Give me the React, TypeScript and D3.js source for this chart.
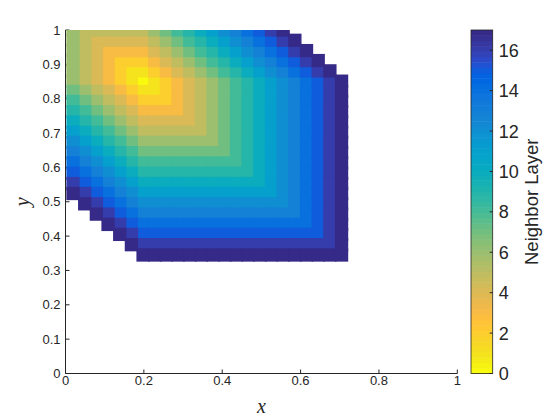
import React from 'react';
import * as d3 from 'd3';

// Cell centres (x for columns, y for rows top -> bottom)
const xCenters = [
  0.0192, 0.049, 0.0788, 0.1086, 0.1384, 0.1682, 0.198, 0.2278, 0.2576, 0.2874, 0.3172, 0.347,
  0.3768, 0.4066, 0.4364, 0.4662, 0.496, 0.5258, 0.5556, 0.5854, 0.6152, 0.645, 0.6748, 0.7046,
];
const yCenters = [
  1.0, 0.97, 0.94, 0.911, 0.881, 0.851, 0.821, 0.792, 0.762, 0.732, 0.702, 0.673,
  0.643, 0.613, 0.583, 0.553, 0.524, 0.494, 0.464, 0.434, 0.405, 0.375, 0.345,
];

const _ = null;
// Neighbor layer of each cell, rows top -> bottom, columns left -> right
const layers: (number | null)[][] = [
  [6, 5, 5, 5, 5, 5, 5, 6, 7, 8, 9, 10, 11, 12, 13, 14, 15, 16, 17, _, _, _, _, _],
  [6, 5, 4, 4, 4, 4, 4, 5, 6, 7, 8, 9, 10, 11, 12, 13, 14, 15, 16, 17, _, _, _, _],
  [6, 5, 4, 3, 3, 3, 3, 4, 5, 6, 7, 8, 9, 10, 11, 12, 13, 14, 15, 16, 17, _, _, _],
  [6, 5, 4, 3, 2, 2, 2, 3, 4, 5, 6, 7, 8, 9, 10, 11, 12, 13, 14, 15, 16, 17, _, _],
  [6, 5, 4, 3, 2, 1, 1, 2, 3, 4, 5, 6, 7, 8, 9, 10, 11, 12, 13, 14, 15, 16, 17, _],
  [6, 5, 4, 3, 2, 1, 0, 1, 2, 3, 4, 5, 6, 7, 8, 9, 10, 11, 12, 13, 14, 15, 16, 17],
  [7, 6, 5, 4, 3, 2, 1, 1, 2, 3, 4, 5, 6, 7, 8, 9, 10, 11, 12, 13, 14, 15, 16, 17],
  [8, 7, 6, 5, 4, 3, 2, 2, 2, 3, 4, 5, 6, 7, 8, 9, 10, 11, 12, 13, 14, 15, 16, 17],
  [9, 8, 7, 6, 5, 4, 3, 3, 3, 3, 4, 5, 6, 7, 8, 9, 10, 11, 12, 13, 14, 15, 16, 17],
  [10, 9, 8, 7, 6, 5, 4, 4, 4, 4, 4, 5, 6, 7, 8, 9, 10, 11, 12, 13, 14, 15, 16, 17],
  [11, 10, 9, 8, 7, 6, 5, 5, 5, 5, 5, 5, 6, 7, 8, 9, 10, 11, 12, 13, 14, 15, 16, 17],
  [12, 11, 10, 9, 8, 7, 6, 6, 6, 6, 6, 6, 6, 7, 8, 9, 10, 11, 12, 13, 14, 15, 16, 17],
  [13, 12, 11, 10, 9, 8, 7, 7, 7, 7, 7, 7, 7, 7, 8, 9, 10, 11, 12, 13, 14, 15, 16, 17],
  [14, 13, 12, 11, 10, 9, 8, 8, 8, 8, 8, 8, 8, 8, 8, 9, 10, 11, 12, 13, 14, 15, 16, 17],
  [15, 14, 13, 12, 11, 10, 9, 9, 9, 9, 9, 9, 9, 9, 9, 9, 10, 11, 12, 13, 14, 15, 16, 17],
  [16, 15, 14, 13, 12, 11, 10, 10, 10, 10, 10, 10, 10, 10, 10, 10, 10, 11, 12, 13, 14, 15, 16, 17],
  [17, 16, 15, 14, 13, 12, 11, 11, 11, 11, 11, 11, 11, 11, 11, 11, 11, 11, 12, 13, 14, 15, 16, 17],
  [_, 17, 16, 15, 14, 13, 12, 12, 12, 12, 12, 12, 12, 12, 12, 12, 12, 12, 12, 13, 14, 15, 16, 17],
  [_, _, 17, 16, 15, 14, 13, 13, 13, 13, 13, 13, 13, 13, 13, 13, 13, 13, 13, 13, 14, 15, 16, 17],
  [_, _, _, 17, 16, 15, 14, 14, 14, 14, 14, 14, 14, 14, 14, 14, 14, 14, 14, 14, 14, 15, 16, 17],
  [_, _, _, _, 17, 16, 15, 15, 15, 15, 15, 15, 15, 15, 15, 15, 15, 15, 15, 15, 15, 15, 16, 17],
  [_, _, _, _, _, 17, 16, 16, 16, 16, 16, 16, 16, 16, 16, 16, 16, 16, 16, 16, 16, 16, 16, 17],
  [_, _, _, _, _, _, 17, 17, 17, 17, 17, 17, 17, 17, 17, 17, 17, 17, 17, 17, 17, 17, 17, 17],
];

const xTicks = [0, 0.2, 0.4, 0.6, 0.8, 1];
const xTickLabels = ['0', '0.2', '0.4', '0.6', '0.8', '1'];
const yTicks = [0, 0.1, 0.2, 0.3, 0.4, 0.5, 0.6, 0.7, 0.8, 0.9, 1];
const yTickLabels = ['0', '0.1', '0.2', '0.3', '0.4', '0.5', '0.6', '0.7', '0.8', '0.9', '1'];
const cbTicks = [0, 2, 4, 6, 8, 10, 12, 14, 16];
const cbTickLabels = ['0', '2', '4', '6', '8', '10', '12', '14', '16'];
const layerRange = [0, 17];
const xLabel = 'x';
const yLabel = 'y';
const cbLabel = 'Neighbor Layer';

// MATLAB parula (64 entries), used reversed
const PARULA: number[][] = [
  [0.2081, 0.1663, 0.5292], [0.2116, 0.1898, 0.5777], [0.2123, 0.2138, 0.627], [0.2081, 0.2386, 0.6771],
  [0.1959, 0.2645, 0.7279], [0.1707, 0.2919, 0.7792], [0.1253, 0.3242, 0.8303], [0.0591, 0.3598, 0.8683],
  [0.0117, 0.3875, 0.882], [0.006, 0.4086, 0.8828], [0.0165, 0.4266, 0.8786], [0.0329, 0.443, 0.872],
  [0.0498, 0.4586, 0.8641], [0.0629, 0.4737, 0.8554], [0.0723, 0.4887, 0.8467], [0.0779, 0.504, 0.8384],
  [0.0793, 0.52, 0.8312], [0.0749, 0.5375, 0.8263], [0.0641, 0.557, 0.824], [0.0488, 0.5772, 0.8228],
  [0.0343, 0.5966, 0.8199], [0.0265, 0.6137, 0.8135], [0.0239, 0.6287, 0.8038], [0.0231, 0.6418, 0.7913],
  [0.0228, 0.6535, 0.7768], [0.0267, 0.6642, 0.7607], [0.0384, 0.6743, 0.7436], [0.059, 0.6838, 0.7254],
  [0.0843, 0.6928, 0.7062], [0.1133, 0.7015, 0.6859], [0.1453, 0.7098, 0.6646], [0.1801, 0.7177, 0.6424],
  [0.2178, 0.725, 0.6193], [0.2586, 0.7317, 0.5954], [0.3022, 0.7376, 0.5712], [0.3482, 0.7424, 0.5473],
  [0.3953, 0.7459, 0.5244], [0.442, 0.7481, 0.5033], [0.4871, 0.7491, 0.484], [0.53, 0.7491, 0.4661],
  [0.5709, 0.7485, 0.4494], [0.6099, 0.7473, 0.4337], [0.6473, 0.7456, 0.4188], [0.6834, 0.7435, 0.4044],
  [0.7184, 0.7411, 0.3905], [0.7525, 0.7384, 0.3768], [0.7858, 0.7356, 0.3633], [0.8185, 0.7327, 0.3498],
  [0.8507, 0.7299, 0.336], [0.8824, 0.7274, 0.3217], [0.9139, 0.7258, 0.3063], [0.945, 0.7261, 0.2886],
  [0.9739, 0.7314, 0.2666], [0.9938, 0.7455, 0.2403], [0.999, 0.7653, 0.2164], [0.9955, 0.7861, 0.1967],
  [0.988, 0.8066, 0.1794], [0.9789, 0.8271, 0.1633], [0.9697, 0.8481, 0.1475], [0.9626, 0.8705, 0.1309],
  [0.9589, 0.8949, 0.1132], [0.9598, 0.9218, 0.0948], [0.9661, 0.9514, 0.0755], [0.9763, 0.9831, 0.0538],
];
const cmap = PARULA.slice().reverse().map(([r, g, b]) => d3.rgb(r * 255, g * 255, b * 255).formatHex());

const AX = '#262626';
const W = 560;
const H = 420;
const plot = { left: 65.5, right: 457.3, top: 30, bottom: 373.5 };
const cb = { left: 471, right: 492.7 };
const markerSize = 13.3;

export default function App() {
  const x = d3.scaleLinear().domain([0, 1]).range([plot.left, plot.right]);
  const y = d3.scaleLinear().domain([0, 1]).range([plot.bottom, plot.top]);
  const cy = d3.scaleLinear().domain(layerRange).range([plot.bottom, plot.top]);
  const colorIndex = d3
    .scaleQuantize<number>()
    .domain(layerRange)
    .range(d3.range(cmap.length));
  const colorOf = (v: number) => cmap[Math.min(cmap.length - 1, colorIndex(v))];

  const cells: { cx: number; cy: number; v: number; key: string }[] = [];
  layers.forEach((row, r) =>
    row.forEach((v, c) => {
      if (v !== null) cells.push({ cx: xCenters[c], cy: yCenters[r], v, key: `${r}-${c}` });
    })
  );
  cells.sort((a, b) => a.v - b.v);

  const bandH = (layerRange[1] - layerRange[0]) / cmap.length;
  const tickLen = 4;
  const font = 'Liberation Sans, Arial, Helvetica, sans-serif';

  return (
    <svg
      width={W}
      height={H}
      style={{ position: 'absolute', left: 0, top: 0, background: '#fff' }}
      xmlns="http://www.w3.org/2000/svg"
    >
      <defs>
        <clipPath id="plotClip">
          <rect x={plot.left} y={plot.top} width={plot.right - plot.left} height={plot.bottom - plot.top} />
        </clipPath>
      </defs>
      <rect x={0} y={0} width={W} height={H} fill="#fff" />

      {/* axes */}
      <g stroke={AX} strokeWidth={1} fill="none">
        <line x1={plot.left} x2={plot.left} y1={plot.top} y2={plot.bottom} />
        <line x1={plot.left} x2={plot.right} y1={plot.bottom} y2={plot.bottom} />
        {xTicks.map((t) => (
          <line key={'xt' + t} x1={x(t)} x2={x(t)} y1={plot.bottom} y2={plot.bottom - tickLen} />
        ))}
        {yTicks.map((t) => (
          <line key={'yt' + t} x1={plot.left} x2={plot.left + tickLen} y1={y(t)} y2={y(t)} />
        ))}
      </g>

      {/* cells: square markers drawn layer by layer */}
      <g clipPath="url(#plotClip)">
        {cells.map((d) => (
          <rect
            key={d.key}
            x={x(d.cx) - markerSize / 2}
            y={y(d.cy) - markerSize / 2}
            width={markerSize}
            height={markerSize}
            fill={colorOf(d.v)}
          />
        ))}
      </g>

      {/* tick labels */}
      <g fill={AX} fontFamily={font} fontSize={13}>
        {xTicks.map((t, i) => (
          <text key={'xl' + t} x={x(t)} y={plot.bottom + 11} textAnchor="middle">
            {xTickLabels[i]}
          </text>
        ))}
        {yTicks.map((t, i) => (
          <text key={'yl' + t} x={plot.left - 5} y={y(t) + 4.5} textAnchor="end">
            {yTickLabels[i]}
          </text>
        ))}
      </g>

      {/* axis labels */}
      <text
        x={(plot.left + plot.right) / 2}
        y={413}
        textAnchor="middle"
        fontFamily="Liberation Serif, Times New Roman, serif"
        fontStyle="italic"
        fontSize={20}
        fill={AX}
      >
        {xLabel}
      </text>
      <text
        transform={`translate(29, ${(plot.top + plot.bottom) / 2}) rotate(-90)`}
        textAnchor="middle"
        fontFamily="Liberation Serif, Times New Roman, serif"
        fontStyle="italic"
        fontSize={20}
        fill={AX}
      >
        {yLabel}
      </text>

      {/* colorbar */}
      <g>
        {cmap.map((col, k) => (
          <rect
            key={'cb' + k}
            x={cb.left}
            y={cy(layerRange[0] + (k + 1) * bandH)}
            width={cb.right - cb.left}
            height={cy(layerRange[0] + k * bandH) - cy(layerRange[0] + (k + 1) * bandH) + 0.5}
            fill={col}
          />
        ))}
        <rect
          x={cb.left}
          y={plot.top}
          width={cb.right - cb.left}
          height={plot.bottom - plot.top}
          fill="none"
          stroke={AX}
          strokeWidth={0.8}
        />
        {cbTicks.map((t) => (
          <line key={'ct' + t} x1={cb.right} x2={cb.right - 3} y1={cy(t)} y2={cy(t)} stroke={AX} strokeWidth={1} />
        ))}
        <g fill={AX} fontFamily={font} fontSize={18}>
          {cbTicks.map((t, i) => (
            <text key={'cl' + t} x={cb.right + 6} y={cy(t) + 6.5}>
              {cbTickLabels[i]}
            </text>
          ))}
        </g>
        <text
          transform={`translate(538, ${(plot.top + plot.bottom) / 2}) rotate(-90)`}
          textAnchor="middle"
          fontFamily={font}
          fontSize={18.5}
          fill={AX}
        >
          {cbLabel}
        </text>
      </g>
    </svg>
  );
}
